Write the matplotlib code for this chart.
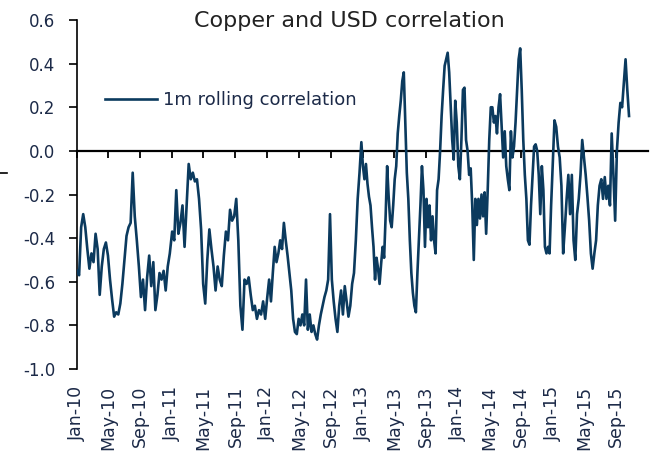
import matplotlib
matplotlib.use("Agg")

import numpy as np
import pandas as pd
import matplotlib.pyplot as plt
import matplotlib.dates as mdates
from matplotlib.lines import Line2D

# 1m rolling correlation (roughly weekly samples per year)
corr_2010 = [-0.55, -0.57, -0.35, -0.29, -0.35, -0.45, -0.54, -0.47, -0.51, -0.38,
             -0.45, -0.66, -0.53, -0.45, -0.42, -0.48, -0.59, -0.68, -0.76, -0.74,
             -0.75, -0.70, -0.61, -0.50, -0.39, -0.35, -0.33, -0.10, -0.30, -0.41,
             -0.53, -0.67, -0.59, -0.73, -0.58, -0.48, -0.62, -0.51, -0.73, -0.66,
             -0.56, -0.59, -0.55, -0.64, -0.53, -0.47]
corr_2011 = [-0.37, -0.41, -0.18, -0.38, -0.33, -0.25, -0.44, -0.25, -0.06, -0.13,
             -0.10, -0.14, -0.13, -0.22, -0.36, -0.61, -0.70, -0.50, -0.36, -0.45,
             -0.53, -0.64, -0.53, -0.59, -0.62, -0.48, -0.37, -0.41, -0.27, -0.32,
             -0.30, -0.22, -0.41, -0.71, -0.82, -0.59, -0.61, -0.58, -0.66, -0.73,
             -0.71, -0.77, -0.73, -0.75, -0.69, -0.77]
corr_2012 = [-0.67, -0.59, -0.69, -0.56, -0.44, -0.51, -0.47, -0.41, -0.45, -0.33,
             -0.41, -0.48, -0.56, -0.64, -0.77, -0.83, -0.84, -0.77, -0.80, -0.75,
             -0.80, -0.59, -0.82, -0.75, -0.83, -0.80, -0.84, -0.865, -0.80, -0.75,
             -0.71, -0.67, -0.64, -0.59, -0.29, -0.59, -0.69, -0.77, -0.83, -0.71,
             -0.64, -0.75, -0.62, -0.69, -0.76, -0.71, -0.61, -0.56, -0.41, -0.22,
             -0.10, 0.04]
corr_2013 = [-0.07, -0.13, -0.06, -0.15, -0.21, -0.25, -0.35, -0.44, -0.59, -0.49,
             -0.54, -0.61, -0.52, -0.44, -0.49, -0.30, -0.07, -0.21, -0.32, -0.35,
             -0.25, -0.13, -0.07, 0.08, 0.16, 0.23, 0.32, 0.36, 0.13, -0.10,
             -0.22, -0.41, -0.56, -0.65, -0.71, -0.74, -0.56, -0.41, -0.25, -0.07,
             -0.18, -0.44, -0.22, -0.35, -0.25, -0.41, -0.30, -0.41, -0.47, -0.18,
             -0.13, 0.00, 0.16, 0.28, 0.39, 0.42, 0.45, 0.36, 0.20, 0.05,
             -0.04, 0.23, 0.13]
corr_2014 = [-0.07, -0.13, 0.05, 0.28, 0.29, 0.05, 0.00, -0.11, -0.08, -0.25,
             -0.50, -0.22, -0.34, -0.22, -0.31, -0.20, -0.30, -0.19, -0.38, -0.18,
             0.05, 0.20, 0.20, 0.13, 0.16, 0.08, 0.20, 0.26, 0.11, -0.03,
             0.09, -0.07, -0.13, -0.18, 0.09, -0.03, 0.02, 0.13, 0.28, 0.42,
             0.47, 0.28, 0.05, -0.11, -0.22, -0.41, -0.43, -0.25, -0.11, 0.02,
             0.03, 0.00, -0.11, -0.29, -0.07, -0.18, -0.44, -0.47, -0.44, -0.47,
             -0.25, -0.07]
corr_2015 = [0.14, 0.11, 0.02, -0.03, -0.16, -0.47, -0.35, -0.22, -0.11, -0.29,
             -0.11, -0.41, -0.50, -0.29, -0.22, -0.11, 0.05, -0.03, -0.11, -0.21,
             -0.32, -0.47, -0.54, -0.47, -0.41, -0.25, -0.16, -0.13, -0.22, -0.12,
             -0.22, -0.16, -0.25, 0.08, -0.11, -0.32, 0.00, 0.13, 0.22, 0.20,
             0.31, 0.42, 0.28, 0.16]

yearly = [corr_2010, corr_2011, corr_2012, corr_2013, corr_2014, corr_2015]
seg_start = ['2010-01-01', '2011-01-01', '2012-01-01', '2013-01-02', '2014-01-03', '2015-01-07']
seg_end = ['2010-12-23', '2011-12-24', '2012-12-27', '2013-12-28', '2014-12-31', '2015-10-20']

x_ticks = pd.date_range('2010-01-01', '2015-09-01', freq='4MS')
x_labels = list(x_ticks.strftime('%b-%y'))
y_ticks = [-1.0, -0.8, -0.6, -0.4, -0.2, 0.0, 0.2, 0.4, 0.6]
y_labels = ['-1.0', '-0.8', '-0.6', '-0.4', '-0.2', '0.0', '0.2', '0.4', '0.6']

# samples spread evenly over each year's span
parts = [pd.Series(v, index=pd.date_range(s, e, periods=len(v)))
         for v, s, e in zip(yearly, seg_start, seg_end)]
corr = pd.concat(parts)
xs = mdates.date2num(corr.index.to_pydatetime())
tick_x = mdates.date2num(x_ticks.to_pydatetime())

navy = '#0b3a5e'
txt = '#1c2a48'

fig = plt.figure(figsize=(6.5, 4.55), dpi=100)
ax = fig.add_axes([0.1185, 0.189, 0.8785, 0.767])

ax.plot(xs, corr.values, color=navy, lw=1.9, zorder=3, label='1m rolling correlation')

ax.set_xlim(mdates.date2num(pd.Timestamp('2010-01-01')), mdates.date2num(pd.Timestamp('2016-01-01')))
ax.set_ylim(-1.0, 0.6)

# zero line acts as x axis, labels sit at the bottom
ax.spines['bottom'].set_position(('data', 0))
ax.spines['bottom'].set_linewidth(1.6)
ax.spines['left'].set_linewidth(1.2)
ax.spines['top'].set_visible(False)
ax.spines['right'].set_visible(False)
ax.set_xticks(tick_x)
ax.tick_params(axis='x', direction='out', length=5, width=1.3, labelbottom=False)
ax.set_yticks(y_ticks, y_labels)
ax.tick_params(axis='y', direction='out', length=5.5, width=1.2, pad=10,
               labelsize=12, labelcolor=txt)

sec = ax.secondary_xaxis('bottom')
sec.set_xticks(tick_x, x_labels, rotation=90)
sec.tick_params(length=0, pad=12, labelsize=12.5, labelcolor=txt)
sec.spines['bottom'].set_visible(False)

ax.legend(loc='center left', bbox_to_anchor=(0.049, 0.771), frameon=False, fontsize=13,
          handlelength=2.9, handletextpad=0.3, borderpad=0, borderaxespad=0,
          labelcolor=txt)

fig.text(0.538, 0.9407, 'Copper and USD correlation', ha='center', va='baseline',
         fontsize=16, color='#222222')

# small stray dash at the left edge of the original
fig.add_artist(Line2D([0, 0.011], [0.62, 0.62], color='black', lw=1.2))

fig.savefig('out.png', dpi=100)
